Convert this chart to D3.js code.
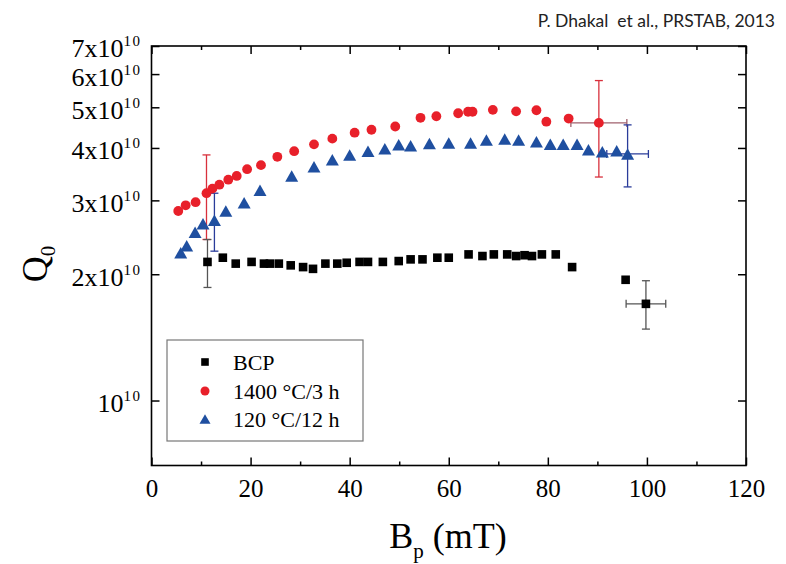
<!DOCTYPE html>
<html><head><meta charset="utf-8">
<script src="https://cdn.jsdelivr.net/npm/d3@7"></script>
<style>body{margin:0;background:#fff} svg{display:block}</style>
</head><body>
<svg id="c" width="786" height="564"></svg>
<script>
// ---- data (Q0 in units of 1e10, Bp in mT) ----
const bcpX = [11.3, 14.4, 17.0, 20.2, 22.7, 23.9, 25.7, 28.1, 30.6, 32.6, 35.1, 37.5, 39.4, 42.0, 43.7, 46.7, 49.9, 52.3, 54.7, 57.7, 60.0, 64.0, 66.8, 69.1, 71.8, 73.6, 75.3, 76.8, 78.8, 81.6, 84.9, 95.7, 99.8];
const bcpY = [2.14, 2.19, 2.12, 2.14, 2.12, 2.12, 2.12, 2.10, 2.08, 2.06, 2.12, 2.12, 2.13, 2.14, 2.14, 2.14, 2.15, 2.17, 2.17, 2.19, 2.19, 2.23, 2.21, 2.23, 2.23, 2.21, 2.22, 2.21, 2.23, 2.23, 2.08, 1.94, 1.70];
const redX = [5.4, 6.9, 8.9, 11.1, 12.3, 13.7, 15.5, 17.2, 19.3, 22.1, 25.4, 28.8, 32.8, 36.5, 41.0, 44.4, 49.2, 54.3, 57.5, 61.9, 63.9, 64.8, 68.9, 73.6, 77.7, 79.7, 84.2, 90.3];
const redY = [2.83, 2.92, 2.97, 3.12, 3.20, 3.27, 3.36, 3.43, 3.56, 3.64, 3.81, 3.93, 4.08, 4.21, 4.35, 4.42, 4.50, 4.72, 4.76, 4.84, 4.88, 4.88, 4.93, 4.89, 4.92, 4.62, 4.70, 4.59];
const blueX = [5.9, 7.1, 8.8, 10.4, 12.7, 15.0, 18.7, 21.9, 28.3, 32.8, 36.5, 40.0, 43.7, 47.1, 49.9, 52.3, 56.1, 60.0, 64.4, 67.6, 71.3, 74.1, 77.7, 80.5, 83.1, 85.9, 88.2, 91.0, 93.9, 96.1];
const blueY = [2.25, 2.34, 2.52, 2.64, 2.69, 2.83, 2.96, 3.17, 3.43, 3.61, 3.75, 3.85, 3.93, 3.98, 4.07, 4.05, 4.10, 4.11, 4.11, 4.18, 4.20, 4.18, 4.14, 4.08, 4.08, 4.08, 3.96, 3.92, 3.94, 3.87];

// error bars: index into series, low, high (1e10), x half-width (mT)
const bcpErrIdx = [0, 32], bcpErrLow = [1.86, 1.48], bcpErrHigh = [2.42, 1.93], bcpErrX = [0, 4.0];
const redErrIdx = [3, 27], redErrLow = [2.42, 3.41], redErrHigh = [3.85, 5.79], redErrX = [0, 5.65];
const blueErrIdx = [4, 29], blueErrLow = [2.27, 3.23], blueErrHigh = [3.12, 4.54], blueErrX = [0, 4.2];

const xMajor = [0, 20, 40, 60, 80, 100, 120];
const xMinor = [10, 30, 50, 70, 90, 110];
const yTicks = [1, 2, 3, 4, 5, 6, 7];
const legendLabels = ["BCP", "1400 \u00B0C/3 h", "120 \u00B0C/12 h"];

const E = 1e10;
const svg = d3.select("#c");
const serif = "Liberation Serif, Times New Roman, serif";

const x = d3.scaleLinear().domain([0, 120]).range([151.5, 746]);
const y = d3.scaleLog().domain([0.7 * E, 7 * E]).range([465.5, 46]);
const [x0, x1] = x.range(), [y0, y1] = y.range();

// credit text
svg.append("text").attr("x", 775).attr("y", 27).attr("text-anchor", "end")
  .attr("font-family", "Lato, sans-serif").attr("font-size", 17.5)
  .attr("fill", "#222").attr("xml:space", "preserve").style("white-space", "pre")
  .text("P. Dhakal  et al., PRSTAB, 2013");

function styleAxis(g) {
  g.select(".domain").remove();
  g.selectAll(".tick line").attr("stroke", "#000").attr("stroke-width", 1.5);
}

// axes
svg.append("g").attr("transform", `translate(0,${y0})`)
  .call(d3.axisBottom(x).tickValues(xMajor).tickSize(-8).tickPadding(14).tickFormat(d3.format("d")))
  .call(styleAxis)
  .call(g => g.selectAll("text").attr("font-family", serif).attr("font-size", 25).attr("fill", "#000"));
svg.append("g").attr("transform", `translate(0,${y0})`)
  .call(d3.axisBottom(x).tickValues(xMinor).tickSize(-4).tickFormat(""))
  .call(styleAxis);
svg.append("g").attr("transform", `translate(0,${y1})`)
  .call(d3.axisTop(x).tickValues(xMajor).tickSize(-8).tickFormat(""))
  .call(styleAxis);
svg.append("g").attr("transform", `translate(0,${y1})`)
  .call(d3.axisTop(x).tickValues(xMinor).tickSize(-4).tickFormat(""))
  .call(styleAxis);
svg.append("g").attr("transform", `translate(${x1},0)`)
  .call(d3.axisRight(y).tickValues(yTicks.map(v => v * E)).tickSize(-8).tickFormat(""))
  .call(styleAxis);
const gl = svg.append("g").attr("transform", `translate(${x0},0)`)
  .call(d3.axisLeft(y).tickValues(yTicks.map(v => v * E)).tickSize(-8).tickPadding(10).tickFormat(""))
  .call(styleAxis);
gl.selectAll(".tick text").each(function (d) {
  const t = d3.select(this).attr("font-family", serif).attr("font-size", 26).attr("fill", "#000")
    .attr("dy", "0.42em").attr("x", -10);
  const m = Math.round(d / E);
  t.append("tspan").text(m === 1 ? "10" : m + "x10");
  t.append("tspan").attr("dy", -11).attr("font-size", 15).attr("letter-spacing", 1.5).text("10");
});

// frame
svg.append("rect").attr("x", x0).attr("y", y1).attr("width", x1 - x0).attr("height", y0 - y1)
  .attr("fill", "none").attr("stroke", "#000").attr("stroke-width", 1.6);

// axis titles
const xt = svg.append("text").attr("x", 448).attr("y", 548).attr("text-anchor", "middle")
  .attr("font-family", serif).attr("font-size", 36).attr("fill", "#000");
xt.append("tspan").text("B");
xt.append("tspan").attr("font-size", 21).attr("dy", 10).text("p");
xt.append("tspan").attr("dy", -10).text(" (mT)");

const yt = svg.append("text").attr("transform", "translate(47,264) rotate(-90)").attr("text-anchor", "middle")
  .attr("font-family", serif).attr("font-size", 36).attr("fill", "#000");
yt.append("tspan").text("Q");
yt.append("tspan").attr("font-size", 21).attr("dy", 8).text("0");

// error bars
const plot = svg.append("g");
function errBars(X, Y, idx, lo, hi, xe, vcol, hcol) {
  idx.forEach((k, i) => {
    const cx = x(X[k]), cy = y(Y[k] * E);
    const ylo = y(lo[i] * E), yhi = y(hi[i] * E);
    const g = plot.append("g").attr("stroke-width", 1.3).attr("fill", "none");
    g.append("line").attr("x1", cx).attr("x2", cx).attr("y1", ylo).attr("y2", yhi).attr("stroke", vcol);
    g.append("line").attr("x1", cx - 4).attr("x2", cx + 4).attr("y1", ylo).attr("y2", ylo).attr("stroke", vcol);
    g.append("line").attr("x1", cx - 4).attr("x2", cx + 4).attr("y1", yhi).attr("y2", yhi).attr("stroke", vcol);
    if (xe[i] > 0) {
      const xl = x(X[k] - xe[i]), xr = x(X[k] + xe[i]);
      g.append("line").attr("x1", xl).attr("x2", xr).attr("y1", cy).attr("y2", cy).attr("stroke", hcol);
      g.append("line").attr("x1", xl).attr("x2", xl).attr("y1", cy - 4).attr("y2", cy + 4).attr("stroke", hcol);
      g.append("line").attr("x1", xr).attr("x2", xr).attr("y1", cy - 4).attr("y2", cy + 4).attr("stroke", hcol);
    }
  });
}
errBars(redX, redY, redErrIdx, redErrLow, redErrHigh, redErrX, "#d8303c", "#a0606c");
errBars(blueX, blueY, blueErrIdx, blueErrLow, blueErrHigh, blueErrX, "#2a3c9a", "#2a3c9a");
errBars(bcpX, bcpY, bcpErrIdx, bcpErrLow, bcpErrHigh, bcpErrX, "#555", "#555");

// markers
const RED = "#e8202a", BLUE = "#1f4fa0";
function tri(cx, cy, w, h) {
  return `M${cx},${cy - h / 2}L${cx + w / 2},${cy + h / 2}L${cx - w / 2},${cy + h / 2}Z`;
}
plot.selectAll("rect.bcp").data(d3.range(bcpX.length)).join("rect")
  .attr("x", i => x(bcpX[i]) - 4.3).attr("y", i => y(bcpY[i] * E) - 4.3)
  .attr("width", 8.6).attr("height", 8.6).attr("fill", "#000");
plot.selectAll("circle.red").data(d3.range(redX.length)).join("circle")
  .attr("cx", i => x(redX[i])).attr("cy", i => y(redY[i] * E)).attr("r", 4.9).attr("fill", RED);
plot.selectAll("path.blue").data(d3.range(blueX.length)).join("path")
  .attr("d", i => tri(x(blueX[i]), y(blueY[i] * E), 13, 11.5)).attr("fill", BLUE);

// legend
const lg = svg.append("g");
lg.append("rect").attr("x", 167).attr("y", 340).attr("width", 196).attr("height", 101)
  .attr("fill", "#fff").attr("stroke", "#777").attr("stroke-width", 1.2);
const rowsY = [362, 391, 419];
lg.append("rect").attr("x", 205 - 3.8).attr("y", rowsY[0] - 3.8).attr("width", 7.6).attr("height", 7.6).attr("fill", "#000");
lg.append("circle").attr("cx", 205).attr("cy", rowsY[1]).attr("r", 4.5).attr("fill", RED);
lg.append("path").attr("d", tri(205, rowsY[2], 11, 9.5)).attr("fill", BLUE);
legendLabels.forEach((s, i) => {
  lg.append("text").attr("x", 233).attr("y", rowsY[i] + 7.5)
    .attr("font-family", serif).attr("font-size", 22).attr("fill", "#000").text(s);
});
</script>
</body></html>
